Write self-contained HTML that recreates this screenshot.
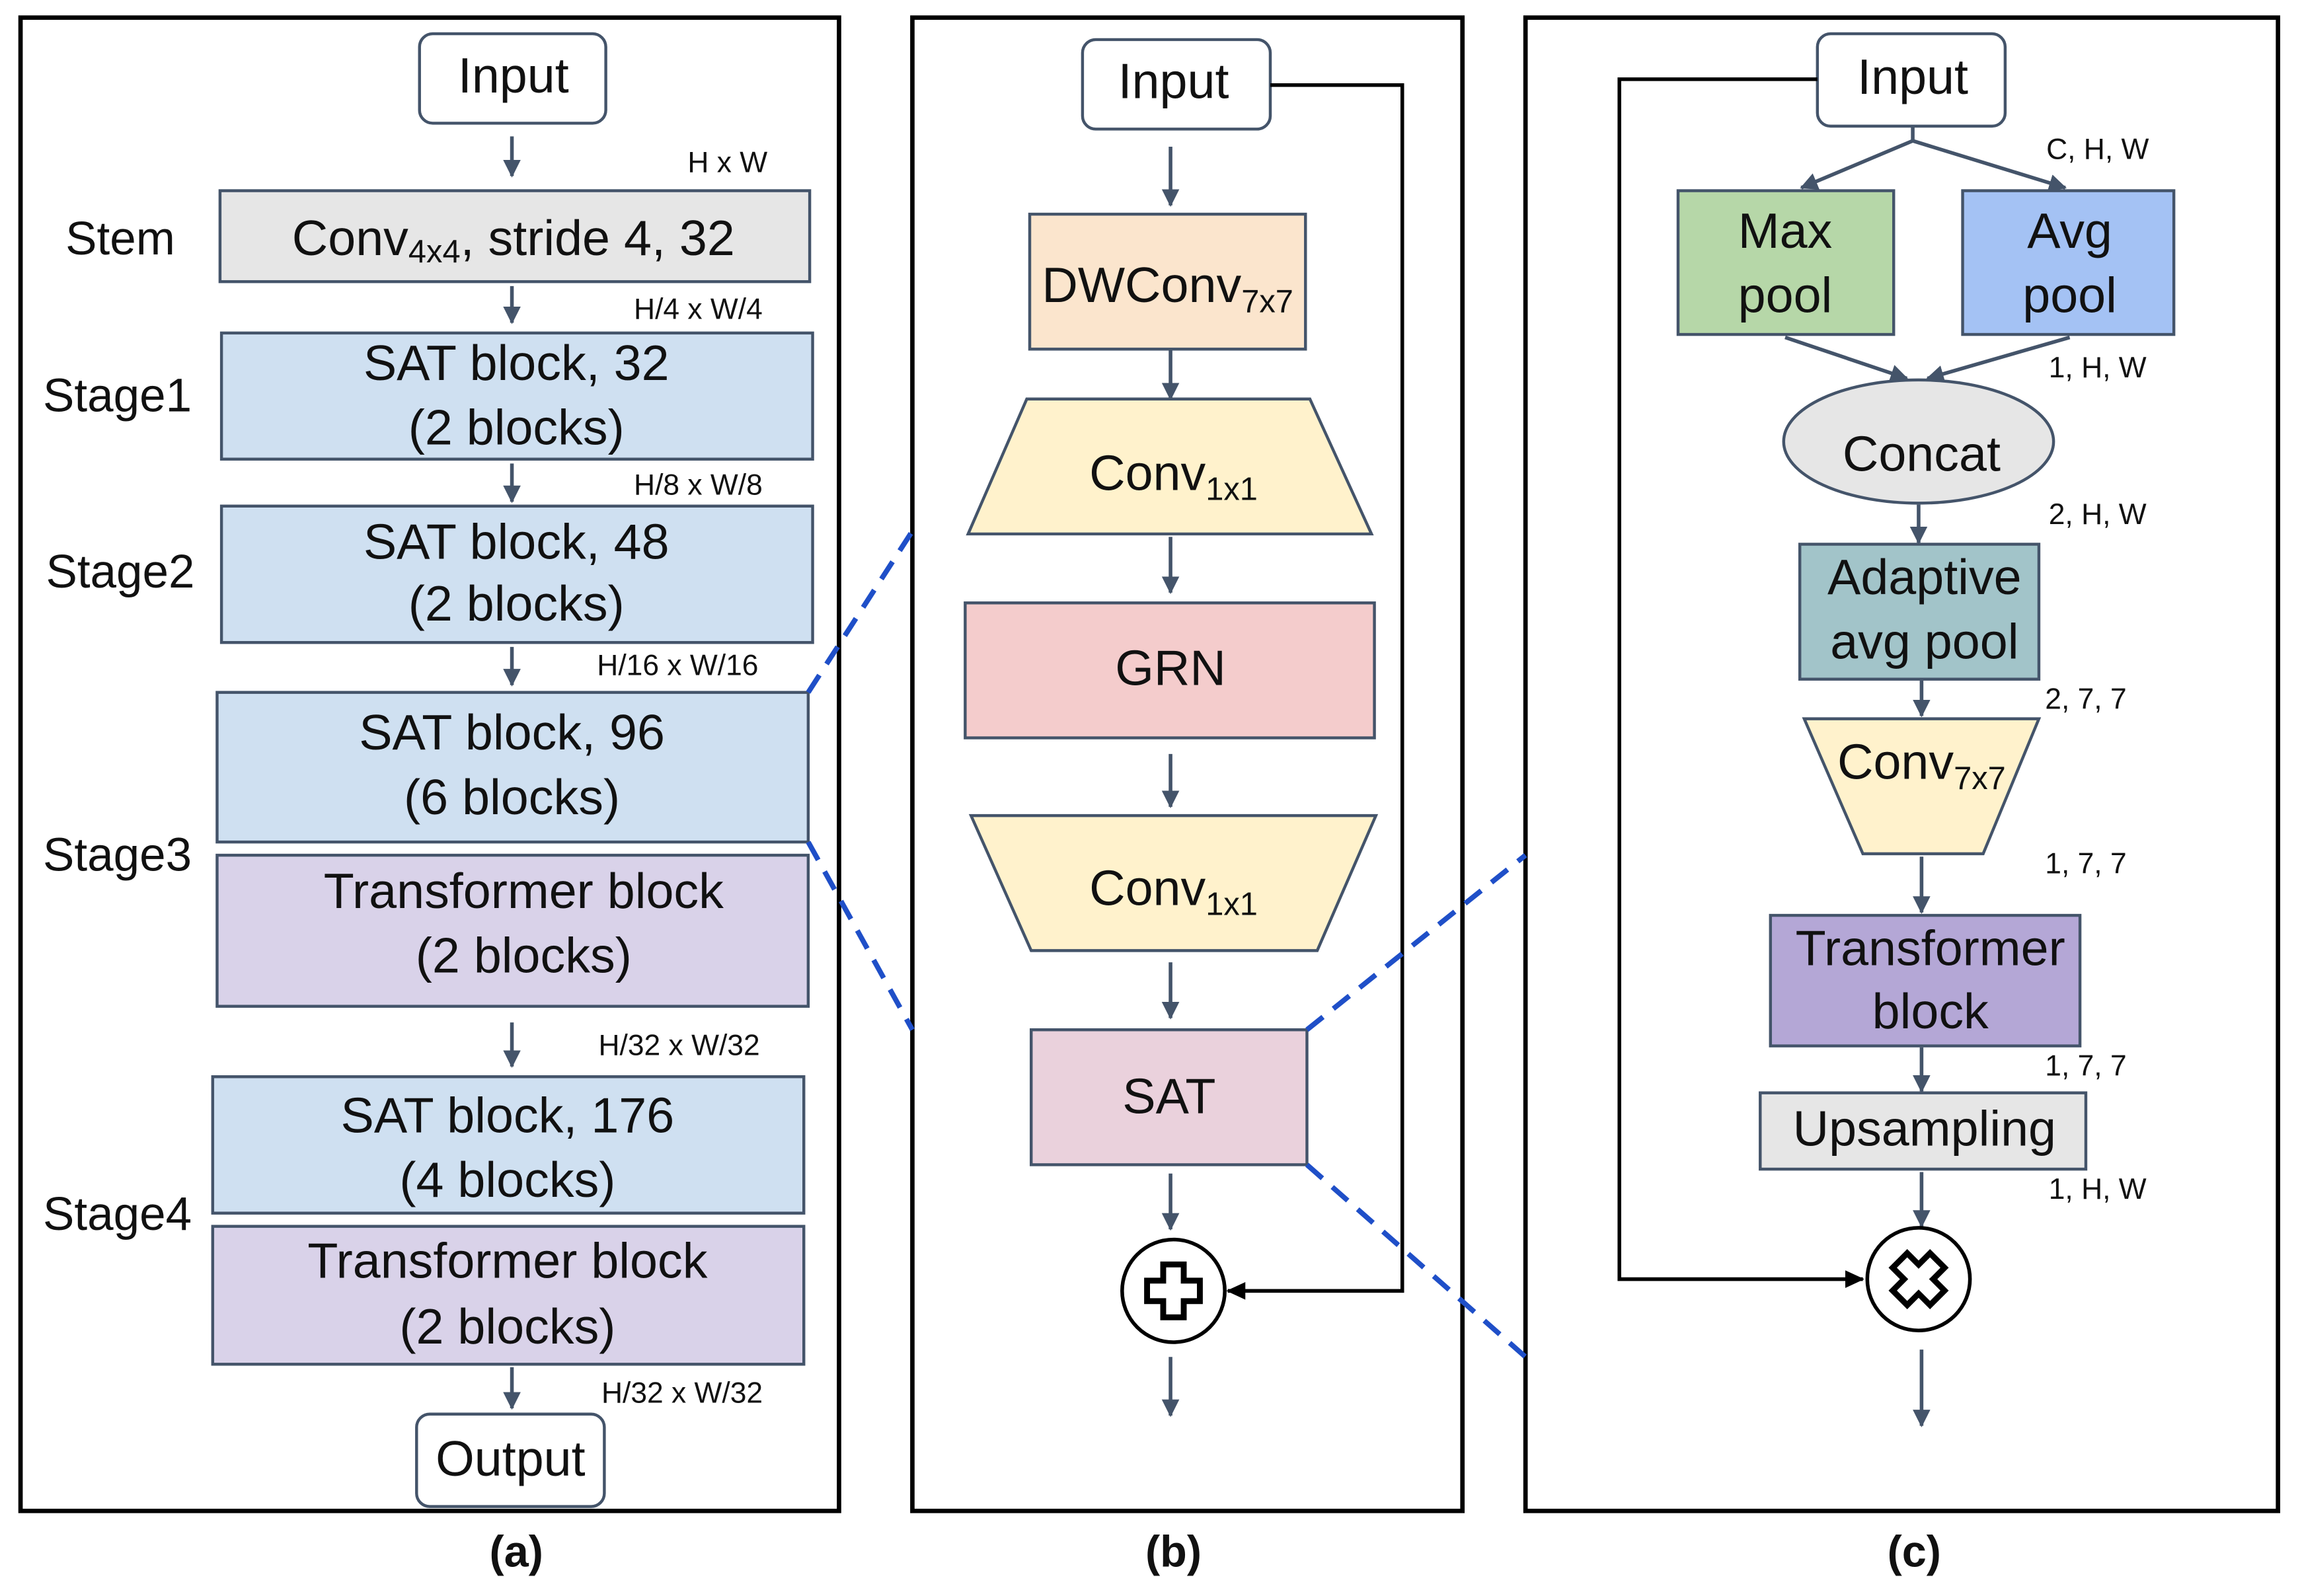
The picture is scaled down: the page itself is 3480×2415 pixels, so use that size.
<!DOCTYPE html>
<html><head><meta charset="utf-8"><style>
html,body{margin:0;padding:0;background:#fff;}
svg{display:block;}
text{font-family:"Liberation Sans","DejaVu Sans",sans-serif;fill:#111;}
.t{font-size:34px;text-anchor:middle;dominant-baseline:middle;}
.s{font-size:20px;text-anchor:middle;dominant-baseline:middle;}
.l{font-size:32px;text-anchor:middle;dominant-baseline:middle;}
.b{font-size:30px;font-weight:bold;text-anchor:middle;dominant-baseline:middle;}
.box{stroke:#44546a;stroke-width:2;}
.ar{stroke:#44546a;stroke-width:2.5;fill:none;marker-end:url(#ah);}
.bk{stroke:#000;stroke-width:2.5;fill:none;}
.ds{stroke:#1f4fc8;stroke-width:3.5;stroke-dasharray:14 9;fill:none;}
</style></head><body>
<svg width="3480" height="2415" viewBox="0 0 1568 1088" preserveAspectRatio="none" xmlns="http://www.w3.org/2000/svg">
<defs>
<marker id="ah" markerWidth="14" markerHeight="14" refX="11" refY="6" orient="auto" markerUnits="userSpaceOnUse"><path d="M0,0 L12,6 L0,12 Z" fill="#44546a"/></marker>
<marker id="bh" markerWidth="14" markerHeight="14" refX="12" refY="7" orient="auto" markerUnits="userSpaceOnUse"><path d="M0,1 L13,7 L0,13 Z" fill="#000"/></marker>
</defs>
<rect x="0" y="0" width="1568" height="1088" fill="#fff"/>
<rect x="14" y="12" width="558" height="1018" fill="none" stroke="#000" stroke-width="3"/>
<rect x="622" y="12" width="375" height="1018" fill="none" stroke="#000" stroke-width="3"/>
<rect x="1040" y="12" width="513" height="1018" fill="none" stroke="#000" stroke-width="3"/>

<rect x="286" y="23" width="127" height="61" rx="9" fill="#fff" class="box"/>
<text x="350" y="54" class="t">Input</text>
<line x1="349" y1="93" x2="349" y2="120" class="ar"/>
<text x="496" y="112" class="s">H x W</text>
<rect x="150" y="130" width="402" height="62" fill="#e6e6e6" class="box"/>
<text x="350" y="165" class="t">Conv<tspan font-size="22" dy="8">4x4</tspan><tspan dy="-8">, stride 4, 32</tspan></text>
<text x="82" y="165" class="l">Stem</text>
<line x1="349" y1="195" x2="349" y2="220" class="ar"/>
<text x="476" y="212" class="s">H/4 x W/4</text>
<rect x="151" y="227" width="403" height="86" fill="#cfe0f1" class="box"/>
<text x="352" y="250" class="t">SAT block, 32</text><text x="352" y="294" class="t">(2 blocks)</text>
<text x="80" y="272" class="l">Stage1</text>
<line x1="349" y1="316" x2="349" y2="342" class="ar"/>
<text x="476" y="332" class="s">H/8 x W/8</text>
<rect x="151" y="345" width="403" height="93" fill="#cfe0f1" class="box"/>
<text x="352" y="372" class="t">SAT block, 48</text><text x="352" y="414" class="t">(2 blocks)</text>
<text x="82" y="392" class="l">Stage2</text>
<line x1="349" y1="441" x2="349" y2="467" class="ar"/>
<text x="462" y="455" class="s">H/16 x W/16</text>
<rect x="148" y="472" width="403" height="102" fill="#cfe0f1" class="box"/>
<text x="349" y="502" class="t">SAT block, 96</text><text x="349" y="546" class="t">(6 blocks)</text>
<rect x="148" y="583" width="403" height="103" fill="#d9d2e9" class="box"/>
<text x="357" y="610" class="t">Transformer block</text><text x="357" y="654" class="t">(2 blocks)</text>
<text x="80" y="585" class="l">Stage3</text>
<line x1="349" y1="697" x2="349" y2="727" class="ar"/>
<text x="463" y="714" class="s">H/32 x W/32</text>
<rect x="145" y="734" width="403" height="93" fill="#cfe0f1" class="box"/>
<text x="346" y="763" class="t">SAT block, 176</text><text x="346" y="807" class="t">(4 blocks)</text>
<rect x="145" y="836" width="403" height="94" fill="#d9d2e9" class="box"/>
<text x="346" y="862" class="t">Transformer block</text><text x="346" y="907" class="t">(2 blocks)</text>
<text x="80" y="830" class="l">Stage4</text>
<line x1="349" y1="932" x2="349" y2="960" class="ar"/>
<text x="465" y="951" class="s">H/32 x W/32</text>
<rect x="284" y="964" width="128" height="63" rx="9" fill="#fff" class="box"/>
<text x="348" y="997" class="t">Output</text>
<text x="352" y="1060" class="b">(a)</text>

<line x1="551" y1="472" x2="622" y2="362" class="ds"/>
<line x1="551" y1="574" x2="622" y2="702" class="ds"/>

<rect x="738" y="27" width="128" height="61" rx="9" fill="#fff" class="box"/>
<text x="800" y="58" class="t">Input</text>
<polyline points="866,58 956,58 956,880 837,880" class="bk" marker-end="url(#bh)"/>
<line x1="798" y1="100" x2="798" y2="140" class="ar"/>
<rect x="702" y="146" width="188" height="92" fill="#fbe5cd" class="box"/>
<text x="796" y="197" class="t">DWConv<tspan font-size="22" dy="10">7x7</tspan></text>
<line x1="798" y1="238" x2="798" y2="272" class="ar"/>
<polygon points="700,272 893,272 935,364 660,364" fill="#fff2cc" class="box"/>
<text x="800" y="325" class="t">Conv<tspan font-size="22" dy="10">1x1</tspan></text>
<line x1="798" y1="366" x2="798" y2="404" class="ar"/>
<rect x="658" y="411" width="279" height="92" fill="#f4cccc" class="box"/>
<text x="798" y="458" class="t">GRN</text>
<line x1="798" y1="514" x2="798" y2="550" class="ar"/>
<polygon points="662,556 938,556 898,648 703,648" fill="#fff2cc" class="box"/>
<text x="800" y="608" class="t">Conv<tspan font-size="22" dy="10">1x1</tspan></text>
<line x1="798" y1="656" x2="798" y2="694" class="ar"/>
<rect x="703" y="702" width="188" height="92" fill="#ead1dc" class="box"/>
<text x="797" y="750" class="t">SAT</text>
<line x1="798" y1="800" x2="798" y2="838" class="ar"/>
<circle cx="800" cy="880" r="35" fill="#fff" stroke="#000" stroke-width="2.5"/>
<path d="M793,862 h14 v11 h11 v14 h-11 v11 h-14 v-11 h-11 v-14 h11 z" fill="#fff" stroke="#000" stroke-width="4"/>
<line x1="798" y1="925" x2="798" y2="965" class="ar"/>
<text x="800" y="1060" class="b">(b)</text>

<line x1="891" y1="702" x2="1040" y2="583" class="ds"/>
<line x1="891" y1="794" x2="1040" y2="925" class="ds"/>

<rect x="1239" y="23" width="128" height="63" rx="9" fill="#fff" class="box"/>
<text x="1304" y="55" class="t">Input</text>
<polyline points="1239,54 1104,54 1104,872 1270,872" class="bk" marker-end="url(#bh)"/>
<polyline points="1304,86 1304,96" class="bk" style="stroke:#44546a"/>
<line x1="1304" y1="96" x2="1228" y2="128" class="ar"/>
<line x1="1304" y1="96" x2="1408" y2="128" class="ar"/>
<text x="1430" y="103" class="s">C, H, W</text>
<rect x="1144" y="130" width="147" height="98" fill="#b6d7a8" class="box"/>
<text x="1217" y="160" class="t">Max</text><text x="1217" y="204" class="t">pool</text>
<rect x="1338" y="130" width="144" height="98" fill="#a4c2f4" class="box"/>
<text x="1411" y="160" class="t">Avg</text><text x="1411" y="204" class="t">pool</text>
<line x1="1217" y1="230" x2="1300" y2="258" class="ar"/>
<line x1="1411" y1="230" x2="1314" y2="258" class="ar"/>
<text x="1430" y="252" class="s">1, H, W</text>
<ellipse cx="1308" cy="301" rx="92" ry="42" fill="#e6e6e6" class="box"/>
<text x="1310" y="312" class="t">Concat</text>
<line x1="1308" y1="344" x2="1308" y2="370" class="ar"/>
<text x="1430" y="352" class="s">2, H, W</text>
<rect x="1227" y="371" width="163" height="92" fill="#a2c4c9" class="box"/>
<text x="1312" y="396" class="t">Adaptive</text><text x="1312" y="440" class="t">avg pool</text>
<line x1="1310" y1="464" x2="1310" y2="488" class="ar"/>
<text x="1422" y="478" class="s">2, 7, 7</text>
<polygon points="1230,490 1390,490 1352,582 1270,582" fill="#fff2cc" class="box"/>
<text x="1310" y="522" class="t">Conv<tspan font-size="22" dy="10">7x7</tspan></text>
<text x="1422" y="590" class="s">1, 7, 7</text>
<line x1="1310" y1="584" x2="1310" y2="622" class="ar"/>
<rect x="1207" y="624" width="211" height="89" fill="#b4a7d6" class="box"/>
<text x="1316" y="649" class="t">Transformer</text><text x="1316" y="692" class="t">block</text>
<line x1="1310" y1="714" x2="1310" y2="744" class="ar"/>
<text x="1422" y="728" class="s">1, 7, 7</text>
<rect x="1200" y="745" width="222" height="52" fill="#e6e6e6" class="box"/>
<text x="1312" y="772" class="t">Upsampling</text>
<text x="1430" y="812" class="s">1, H, W</text>
<line x1="1310" y1="799" x2="1310" y2="836" class="ar"/>
<circle cx="1308" cy="872" r="35" fill="#fff" stroke="#000" stroke-width="2.5"/>
<g transform="rotate(45 1308 872)"><path d="M1301,854 h14 v11 h11 v14 h-11 v11 h-14 v-11 h-11 v-14 h11 z" fill="#fff" stroke="#000" stroke-width="4"/></g>
<line x1="1310" y1="920" x2="1310" y2="972" class="ar"/>
<text x="1305" y="1060" class="b">(c)</text>
</svg>
</body></html>
